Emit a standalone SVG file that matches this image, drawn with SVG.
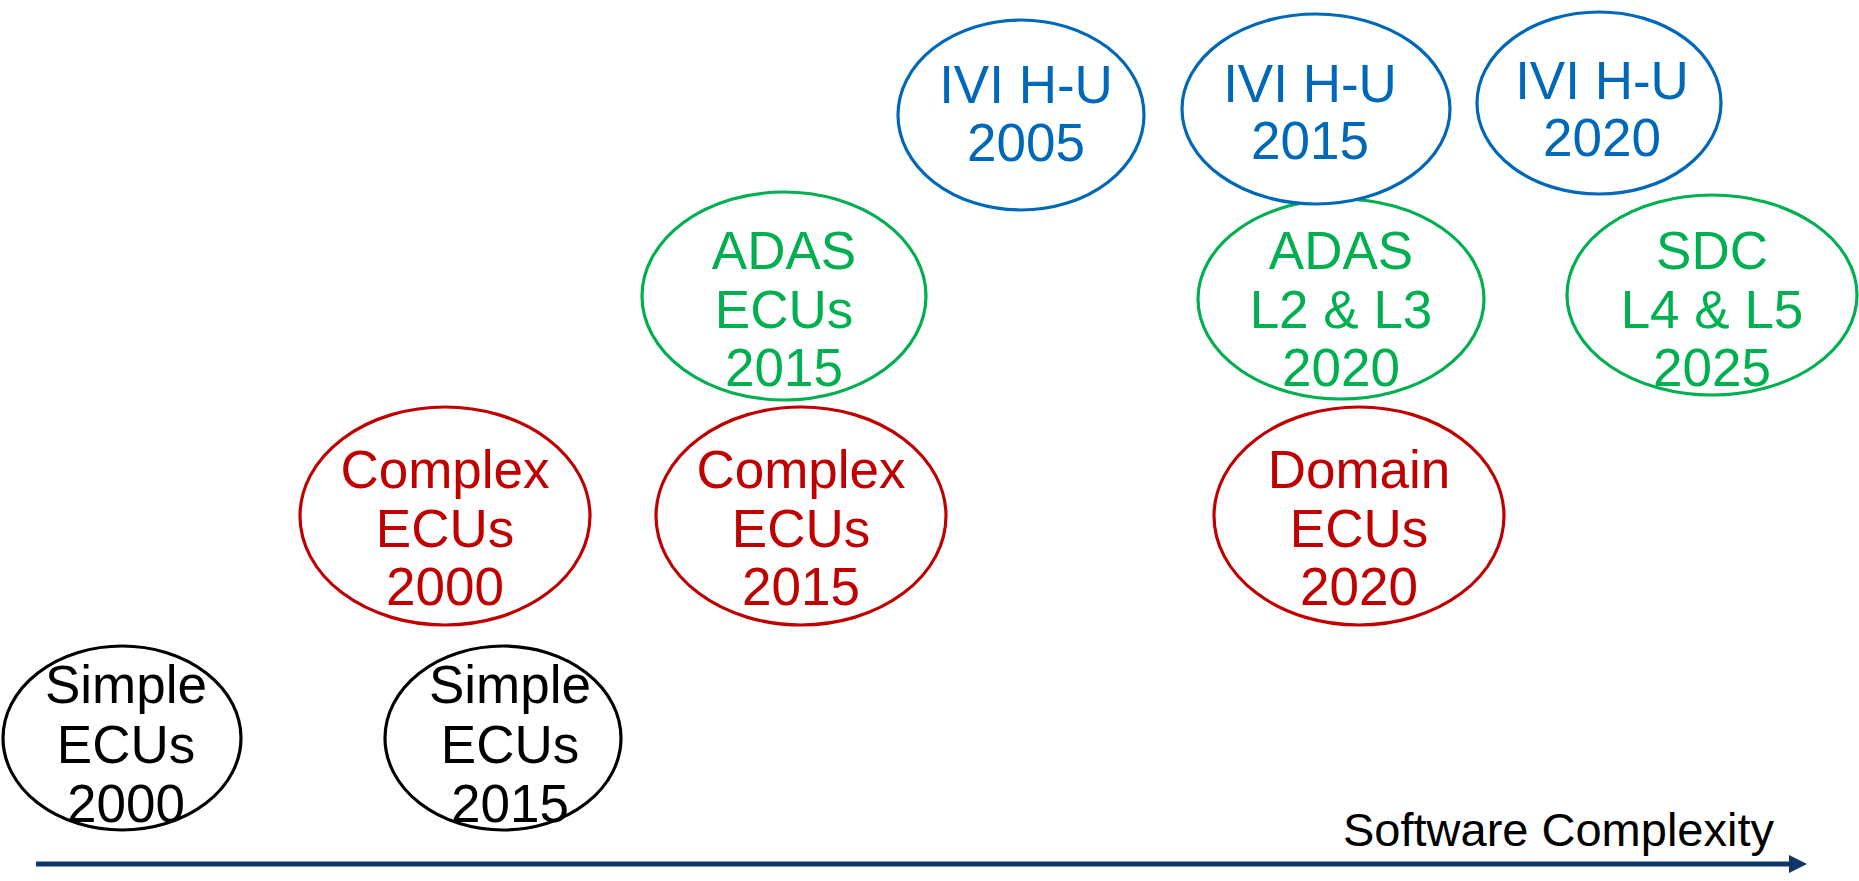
<svg xmlns="http://www.w3.org/2000/svg" width="1859" height="881" viewBox="0 0 1859 881">
<style>
  .e { fill: #ffffff; stroke-width: 3.2; }
  .t { font-family: "Liberation Sans", Arial, sans-serif; font-size: 53px; text-anchor: middle; }
  .blk { stroke: #000000; } .blkT { fill: #000000; }
  .red { stroke: #C00000; } .redT { fill: #C00000; }
  .grn { stroke: #00B050; } .grnT { fill: #00B050; }
  .blu { stroke: #0068B8; } .bluT { fill: #0068B8; }
  .axis { stroke: #0E3765; stroke-width: 5; fill: none; }
  .lbl { font-family: "Liberation Sans", Arial, sans-serif; font-size: 47px; fill: #000000; }
</style>
<rect width="1859" height="881" fill="#ffffff"/>
<g id="connectors">
  <line class="axis" x1="36" y1="864" x2="1792" y2="864"/>
  <polygon points="1807,864 1789,855 1789,873" fill="#0E3765"/>
  <text class="lbl" x="1343" y="846">Software Complexity</text>
</g>
<g id="simple2000">
  <ellipse class="e blk" cx="122" cy="738" rx="119" ry="92"/>
  <text class="t blkT"><tspan x="126" y="703">Simple</tspan><tspan x="126" y="763">ECUs</tspan><tspan x="126" y="822">2000</tspan></text>
</g>
<g id="simple2015">
  <ellipse class="e blk" cx="503" cy="738" rx="118" ry="92"/>
  <text class="t blkT"><tspan x="510" y="703">Simple</tspan><tspan x="510" y="763">ECUs</tspan><tspan x="510" y="822">2015</tspan></text>
</g>
<g id="complex2000">
  <ellipse class="e red" cx="445" cy="516" rx="145" ry="109"/>
  <text class="t redT"><tspan x="445" y="488">Complex</tspan><tspan x="445" y="547">ECUs</tspan><tspan x="445" y="605">2000</tspan></text>
</g>
<g id="complex2015">
  <ellipse class="e red" cx="801" cy="516" rx="145" ry="109"/>
  <text class="t redT"><tspan x="801" y="488">Complex</tspan><tspan x="801" y="547">ECUs</tspan><tspan x="801" y="605">2015</tspan></text>
</g>
<g id="domain2020">
  <ellipse class="e red" cx="1359" cy="516" rx="145" ry="109"/>
  <text class="t redT"><tspan x="1359" y="488">Domain</tspan><tspan x="1359" y="547">ECUs</tspan><tspan x="1359" y="605">2020</tspan></text>
</g>
<g id="adas2015">
  <ellipse class="e grn" cx="784" cy="296" rx="142" ry="104"/>
  <text class="t grnT"><tspan x="784" y="269">ADAS</tspan><tspan x="784" y="328">ECUs</tspan><tspan x="784" y="386">2015</tspan></text>
</g>
<g id="adas2020">
  <ellipse class="e grn" cx="1341" cy="299" rx="143" ry="100"/>
  <text class="t grnT"><tspan x="1341" y="269">ADAS</tspan><tspan x="1341" y="328">L2 &amp; L3</tspan><tspan x="1341" y="386">2020</tspan></text>
</g>
<g id="sdc2025">
  <ellipse class="e grn" cx="1712" cy="295" rx="145" ry="100"/>
  <text class="t grnT"><tspan x="1712" y="269">SDC</tspan><tspan x="1712" y="328">L4 &amp; L5</tspan><tspan x="1712" y="386">2025</tspan></text>
</g>
<g id="ivi2005">
  <ellipse class="e blu" cx="1021" cy="115" rx="123" ry="95"/>
  <text class="t bluT"><tspan x="1026" y="103">IVI H-U</tspan><tspan x="1026" y="161">2005</tspan></text>
</g>
<g id="ivi2015">
  <ellipse class="e blu" cx="1316" cy="109" rx="134" ry="95"/>
  <text class="t bluT"><tspan x="1310" y="102">IVI H-U</tspan><tspan x="1310" y="159">2015</tspan></text>
</g>
<g id="ivi2020">
  <ellipse class="e blu" cx="1599" cy="103" rx="122" ry="91"/>
  <text class="t bluT"><tspan x="1602" y="99">IVI H-U</tspan><tspan x="1602" y="156">2020</tspan></text>
</g>
</svg>
